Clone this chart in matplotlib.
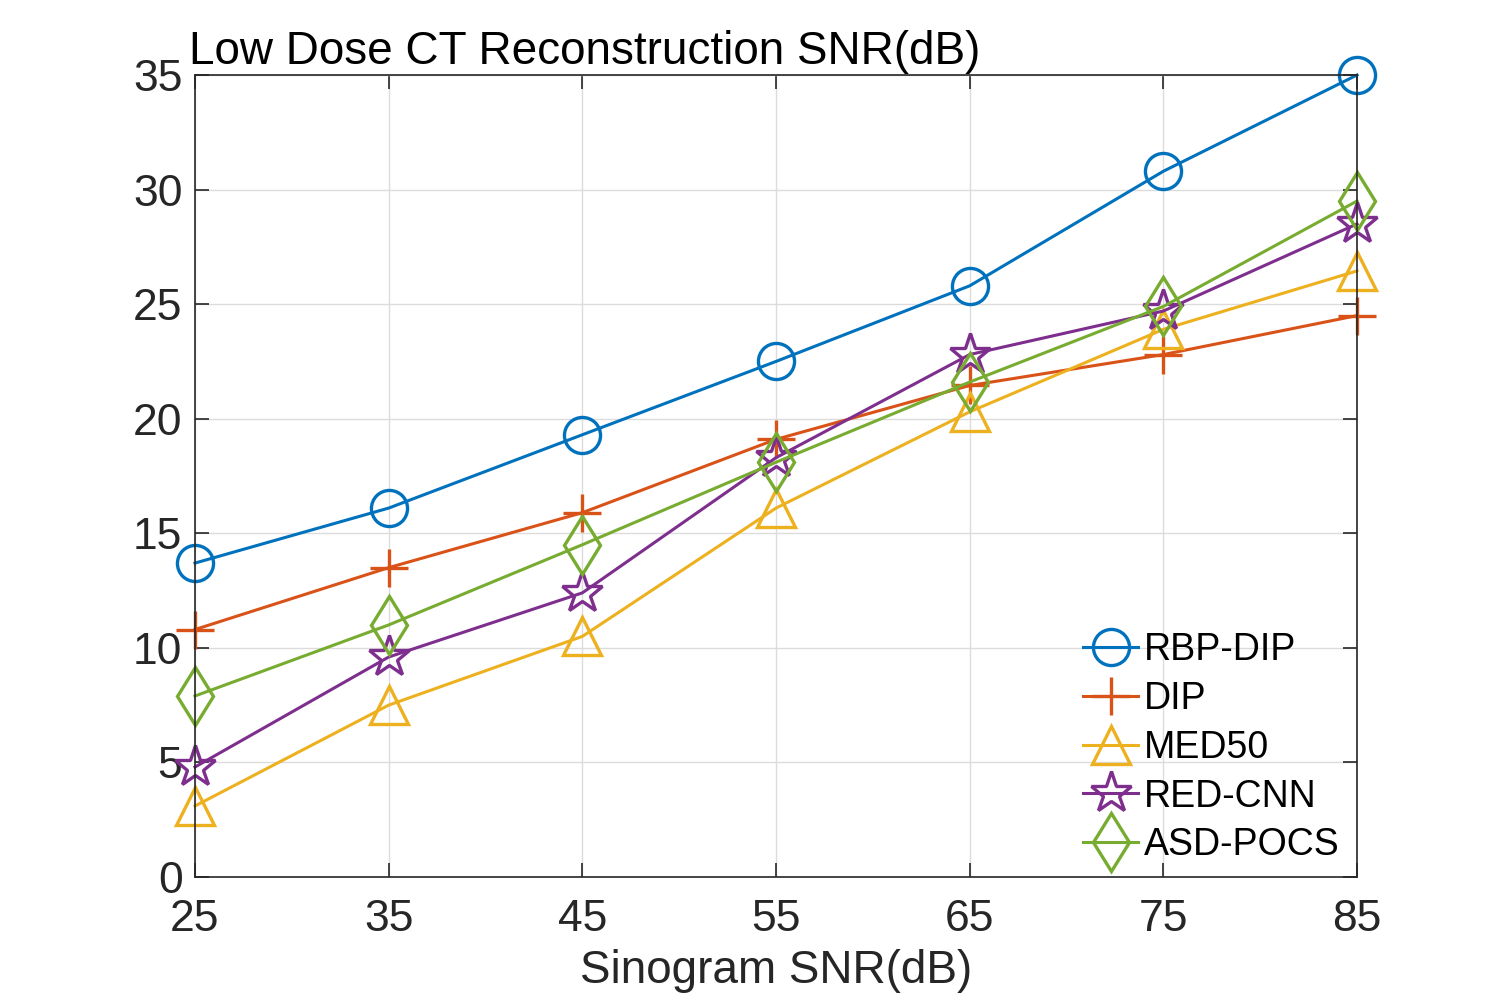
import numpy as np
import matplotlib
matplotlib.use("Agg")
import matplotlib.pyplot as plt

plt.rcParams['font.family'] = ['Liberation Sans', 'DejaVu Sans']

snr_in = [25, 35, 45, 55, 65, 75, 85]
rbp_dip = [13.7, 16.1, 19.3, 22.5, 25.8, 30.8, 35.0]
dip = [10.8, 13.5, 15.9, 19.1, 21.45, 22.8, 24.5]
med50 = [3.1, 7.5, 10.5, 16.1, 20.3, 23.9, 26.45]
red_cnn = [4.8, 9.6, 12.4, 18.3, 22.8, 24.7, 28.5]
asd_pocs = [7.9, 11.0, 14.5, 18.1, 21.6, 24.9, 29.5]

fig = plt.figure(figsize=(15, 10), dpi=100, facecolor='white')
ax = fig.add_axes([0.13, 0.123, 0.7747, 0.802])

ax.plot(snr_in, rbp_dip, color='#0072BD', lw=2.2, marker='o', ms=26, mfc='none', mew=2.4, label='RBP-DIP', clip_on=False)
ax.plot(snr_in, dip, color='#D95319', lw=2.2, marker='+', ms=27, mew=2.4, label='DIP', clip_on=False)
ax.plot(snr_in, med50, color='#EDB120', lw=2.2, marker='^', ms=28, mfc='none', mew=2.4, label='MED50', clip_on=False)
ax.plot(snr_in, red_cnn, color='#7E2F8E', lw=2.2, marker='*', ms=31, mfc='none', mew=2.4, label='RED-CNN', clip_on=False)
ax.plot(snr_in, asd_pocs, color='#77AC30', lw=2.2, marker='d', ms=30, mfc='none', mew=2.4, label='ASD-POCS', clip_on=False)

ax.set_xlim(25, 85)
ax.set_ylim(0, 35)
ax.set_xticks(snr_in)
ax.set_yticks(np.arange(0, 36, 5))
ax.grid(True, color='#dcdcdc', lw=1)
ax.set_axisbelow(True)
ax.tick_params(direction='in', length=10, width=1.2, labelsize=32, colors='#262626',
               top=True, right=True)
ax.tick_params(axis='x', pad=16)
ax.tick_params(axis='y', pad=9)
for s in ax.spines.values():
    s.set_color('#262626')
    s.set_linewidth(1.2)

ax.set_xlabel('Sinogram SNR(dB)', fontsize=33, color='#262626', labelpad=6)
ax.set_title('Low Dose CT Reconstruction SNR(dB)', fontsize=33, loc='left', x=-0.005, pad=8)

leg = ax.legend(loc='lower right', fontsize=27, frameon=False, handlelength=1.45,
                handletextpad=0.15, labelspacing=0.34, borderaxespad=0.2,
                bbox_to_anchor=(1.004, -0.011))

fig.savefig('out.png', dpi=100)
